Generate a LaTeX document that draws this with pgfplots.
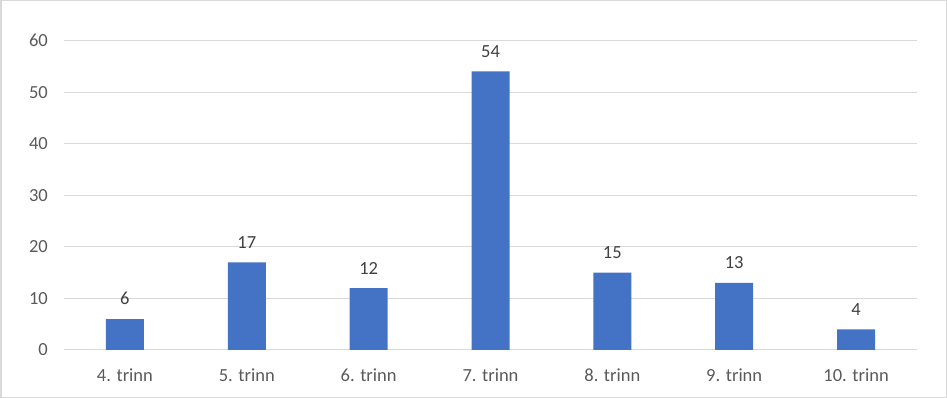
\documentclass[border=0pt]{standalone}
\usepackage{pgfplots}
\pgfplotsset{compat=1.18}
\usepackage{fontspec}
\setmainfont{Carlito}
\definecolor{barblue}{HTML}{4472C4}
\definecolor{gridgray}{HTML}{D9D9D9}
\definecolor{ticktext}{HTML}{595959}
\definecolor{labeltext}{HTML}{404040}
\begin{document}
\begin{tikzpicture}
\path[use as bounding box] (0,0) rectangle (947bp,398bp);
\draw[gridgray, line width=1.5bp] (0.75bp,0.75bp) rectangle (946.25bp,397.25bp);
\begin{axis}[
  at={(64bp,48bp)}, anchor=south west,
  scale only axis, width=853bp, height=309.5bp,
  xmin=-0.5, xmax=6.5, ymin=0, ymax=60,
  ytick={0,10,20,30,40,50,60},
  xtick=data,
  xticklabels={4. trinn,5. trinn,6. trinn,7. trinn,8. trinn,9. trinn,10. trinn},
  axis x line*=bottom,
  axis y line*=left,
  x axis line style={draw=gridgray, line width=1bp, -},
  y axis line style={draw=none},
  ymajorgrids, grid style={gridgray, line width=1bp},
  major tick length=0pt,
  tick style={draw=none},
  font=\fontsize{18.5bp}{20bp}\selectfont,
  ticklabel style={text=ticktext},
  /pgf/number format/assume math mode=true,
  yticklabel style={inner sep=0pt, anchor=east, xshift=-16bp},
  xticklabel style={inner sep=0pt, anchor=north, yshift=-19bp},
  ybar, bar width=38bp,
  nodes near coords,
  every node near coord/.append style={text=labeltext, inner sep=0pt, outer sep=0pt, anchor=south, yshift=14bp, font=\fontsize{18.5bp}{20bp}\selectfont},
]
\addplot[fill=barblue, draw=none] coordinates {(0,6) (1,17) (2,12) (3,54) (4,15) (5,13) (6,4)};
\end{axis}
\end{tikzpicture}
\end{document}
